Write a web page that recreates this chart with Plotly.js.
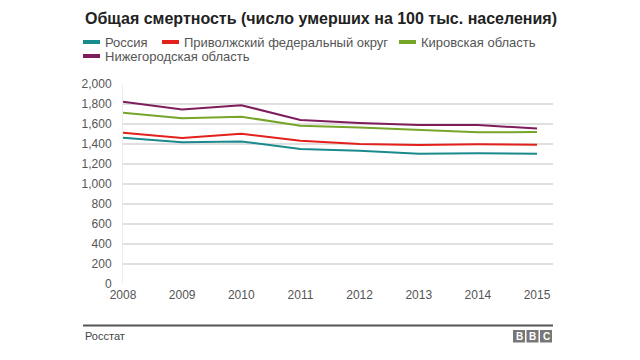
<!DOCTYPE html>
<html>
<head>
<meta charset="utf-8">
<script src="https://cdn.plot.ly/plotly-3.0.1.min.js"></script>
<style>html,body{margin:0;padding:0;background:#fff;}#chart{width:640px;height:360px;}</style>
</head>
<body>
<div id="chart"></div>
<script>
var years = [2008, 2009, 2010, 2011, 2012, 2013, 2014, 2015];
var seriesNames = ["Россия", "Приволжский федеральный округ", "Кировская область", "Нижегородская область"];
var russia = [1463, 1417, 1425, 1350, 1333, 1303, 1307, 1303];
var volga = [1513, 1460, 1503, 1433, 1400, 1390, 1397, 1393];
var kirov = [1712, 1657, 1673, 1583, 1565, 1540, 1517, 1520];
var nizhny = [1822, 1745, 1788, 1640, 1610, 1590, 1590, 1555];
var yTicks = [0, 200, 400, 600, 800, 1000, 1200, 1400, 1600, 1800, 2000];
var titleText = "Общая смертность (число умерших на 100 тыс. населения)";
var sourceText = "Росстат";

var colors = ["#1b8a8d", "#e2211c", "#76a52a", "#7e1d5c"];
var allValues = [russia, volga, kirov, nizhny];

var traces = allValues.map(function (v, i) {
  return {
    x: years, y: v, type: "scatter", mode: "lines", name: seriesNames[i],
    line: {color: colors[i], width: 2}, showlegend: false, hoverinfo: "skip"
  };
});

var W = 640, H = 360;
var mL = 123, mR = 87, mT = 84, mB = 76;
var pw = W - mL - mR, ph = H - mT - mB;
function px(x) { return (x - mL) / pw; }
function py(y) { return (H - mB - y) / ph; }

var font = "Liberation Sans, Arial, Helvetica, sans-serif";
var annotations = [];
var shapes = [];

annotations.push({
  text: "<b>" + titleText + "</b>", xref: "paper", yref: "paper",
  x: px(83), y: py(18.5), xanchor: "left", yanchor: "middle", showarrow: false,
  font: {family: font, size: 16, color: "#222"}
});

// legend
var legendPos = [[83, 42], [162, 42], [399, 42], [83, 56]];
seriesNames.forEach(function (n, i) {
  var p = legendPos[i];
  shapes.push({type: "line", xref: "paper", yref: "paper",
    x0: px(p[0]), x1: px(p[0] + 17), y0: py(p[1]), y1: py(p[1]),
    line: {color: colors[i], width: 4}});
  annotations.push({text: n, xref: "paper", yref: "paper",
    x: px(p[0] + 20), y: py(p[1]), xanchor: "left", yanchor: "middle", showarrow: false,
    font: {family: font, size: 13, color: "#555"}});
});

// footer
shapes.push({type: "line", xref: "paper", yref: "paper",
  x0: px(83), x1: px(553), y0: py(325.5), y1: py(325.5),
  line: {color: "#555", width: 2}});
annotations.push({text: sourceText, xref: "paper", yref: "paper",
  x: px(83), y: py(336), xanchor: "left", yanchor: "middle", showarrow: false,
  font: {family: font, size: 11, color: "#444"}});
var bbc = ["B", "B", "C"];
bbc.forEach(function (ch, i) {
  var x0 = 513 + i * 13.5;
  shapes.push({type: "rect", xref: "paper", yref: "paper",
    x0: px(x0), x1: px(x0 + 12), y0: py(330), y1: py(342.5),
    fillcolor: "#777", line: {width: 0}});
  annotations.push({text: "<b>" + ch + "</b>", xref: "paper", yref: "paper",
    x: px(x0 + 6), y: py(336.3), xanchor: "center", yanchor: "middle", showarrow: false,
    font: {family: font, size: 10, color: "#fff"}});
});

var layout = {
  width: W, height: H,
  margin: {l: mL, r: mR, t: mT, b: mB, pad: 0},
  paper_bgcolor: "#fff", plot_bgcolor: "#fff",
  xaxis: {
    range: [2008, 2015.27], tickvals: years, ticktext: years.map(String),
    showgrid: false, zeroline: false, showline: false,
    tickfont: {family: font, size: 12, color: "#555"}, fixedrange: true,
    ticks: "", ticklabelstandoff: 2
  },
  yaxis: {
    range: [0, 2000], tickvals: yTicks,
    ticktext: yTicks.map(function (v) { return v.toLocaleString("en-US"); }),
    showgrid: true, gridcolor: "#e0e0e0", gridwidth: 1.5,
    zeroline: false, showline: true, linecolor: "#ececec", linewidth: 1,
    tickfont: {family: font, size: 12, color: "#555"}, fixedrange: true,
    ticks: "", ticklabelstandoff: 8
  },
  annotations: annotations,
  shapes: shapes,
  showlegend: false
};

Plotly.newPlot("chart", traces, layout, {displayModeBar: false, staticPlot: true});
</script>
</body>
</html>
